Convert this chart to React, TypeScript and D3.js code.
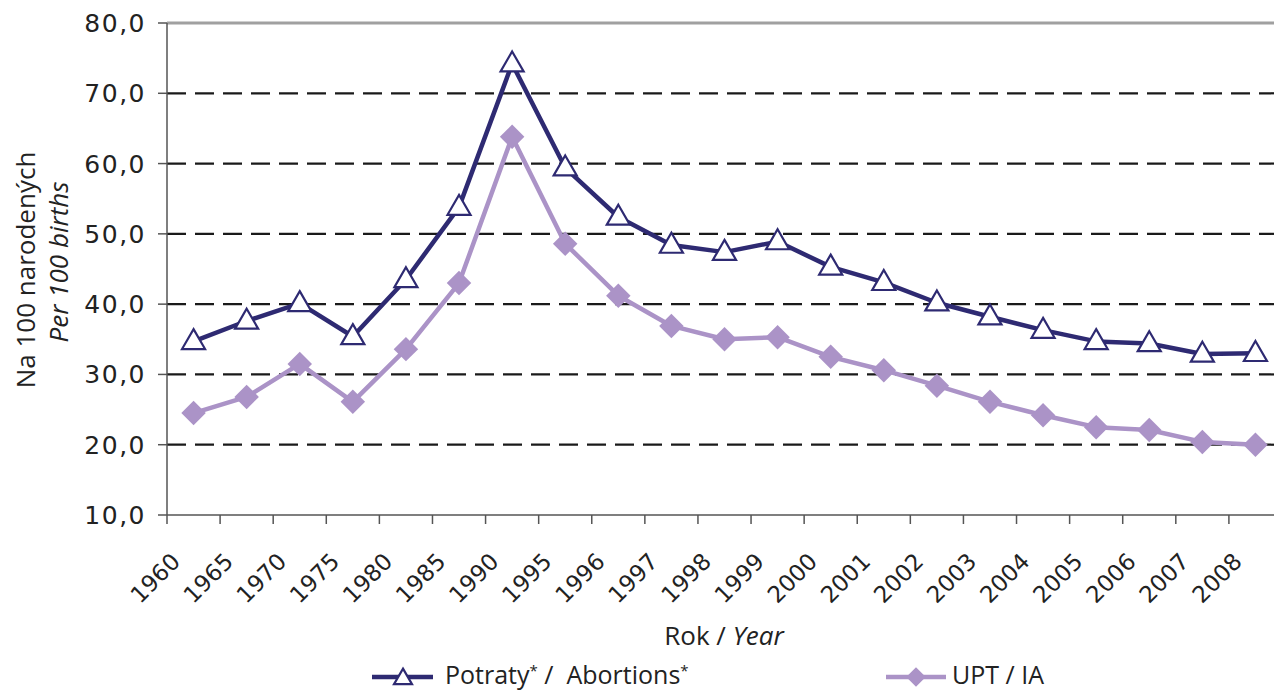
import React from 'react';
import * as d3 from 'd3';

// categories on the x axis
const years = ['1960', '1965', '1970', '1975', '1980', '1985', '1990', '1995', '1996', '1997', '1998',
  '1999', '2000', '2001', '2002', '2003', '2004', '2005', '2006', '2007', '2008'];
// Potraty* / Abortions* per 100 births
const abortions = [34.7, 37.6, 40.1, 35.4, 43.5, 53.8, 74.2, 59.4, 52.4, 48.4, 47.4,
  48.9, 45.3, 43.1, 40.2, 38.2, 36.3, 34.7, 34.4, 32.9, 33.0];
// UPT / IA per 100 births
const upt = [24.5, 26.8, 31.5, 26.1, 33.6, 43.0, 63.8, 48.6, 41.2, 36.9, 35.0,
  35.3, 32.5, 30.6, 28.4, 26.1, 24.2, 22.5, 22.1, 20.4, 20.0];
const yTicks = [10, 20, 30, 40, 50, 60, 70, 80];

const W = 1274;
const H = 693;
const NAVY = '#2e2a72';
const LILAC = '#ab93c7';
const numFont = '"DejaVu Sans", sans-serif';
const txtFont = '"Open Sans", sans-serif';

export default function App() {
  const x = d3.scaleBand().domain(years).range([167, 1282]);
  const y = d3.scaleLinear().domain([10, 80]).range([515, 23]);
  const cx = (yr) => (x(yr) as number) + x.bandwidth() / 2;
  const fmt = (v) => d3.format('.1f')(v).replace('.', ',');

  const line = d3.line<number>()
    .x((_, i) => cx(years[i]))
    .y((d) => y(d));

  const tri = d3.symbol().type(d3.symbolTriangle).size(230)();
  const triSmall = d3.symbol().type(d3.symbolTriangle).size(140)();
  const sq = d3.symbol().type(d3.symbolSquare).size(300)();
  const sqSmall = d3.symbol().type(d3.symbolSquare).size(190)();

  return (
    <svg width={W} height={H} style={{ position: 'absolute', left: 0, top: 0, background: '#fff' }}>
      {/* grid lines */}
      {yTicks.filter((t) => t > 10).map((t) => (
        <line key={t} x1={167} x2={W} y1={y(t)} y2={y(t)}
          stroke={t === 80 ? '#a0a0a0' : '#1a1a1a'} strokeWidth={t === 80 ? 3 : 2.2}
          strokeDasharray={t === 80 ? null : '19 9'} />
      ))}

      {/* y axis */}
      <line x1={167} x2={167} y1={y(80)} y2={y(10)} stroke="#555" strokeWidth={1.5} />
      {yTicks.map((t) => (
        <g key={t}>
          <line x1={158} x2={167} y1={y(t)} y2={y(t)} stroke="#555" strokeWidth={1.5} />
          <text x={146} y={y(t)} dy="0.36em" textAnchor="end" fontFamily={numFont} fontSize={25}
            letterSpacing={1.5} fill="#222">{fmt(t)}</text>
        </g>
      ))}

      {/* x axis */}
      <line x1={167} x2={W} y1={y(10)} y2={y(10)} stroke="#555" strokeWidth={1.5} />
      {years.map((yr) => (
        <g key={yr}>
          <line x1={x(yr)} x2={x(yr)} y1={515} y2={524} stroke="#555" strokeWidth={1.5} />
          <text transform={`translate(${cx(yr) - 12},563) rotate(-45)`} textAnchor="end"
            fontFamily={numFont} fontSize={23} fill="#222">{yr}</text>
        </g>
      ))}

      {/* axis titles */}
      <text transform="translate(35,270) rotate(-90)" textAnchor="middle" fontFamily={txtFont}
        fontSize={26} fill="#222">Na 100 narodených</text>
      <text transform="translate(68,262) rotate(-90)" textAnchor="middle" fontFamily={txtFont}
        fontSize={26} fontStyle="italic" fill="#222">Per 100 births</text>
      <text x={724} y={645} textAnchor="middle" fontFamily={txtFont} fontSize={26} fill="#222">
        Rok / <tspan fontStyle="italic">Year</tspan>
      </text>

      {/* series: abortions */}
      <path d={line(abortions) as string} fill="none" stroke={NAVY} strokeWidth={4.5}
        strokeLinejoin="round" />
      {abortions.map((v, i) => (
        <path key={i} d={tri as string} transform={`translate(${cx(years[i])},${y(v) + 1})`}
          fill="#fff" stroke={NAVY} strokeWidth={2.2} />
      ))}

      {/* series: UPT */}
      <path d={line(upt) as string} fill="none" stroke={LILAC} strokeWidth={4.5}
        strokeLinejoin="round" />
      {upt.map((v, i) => (
        <path key={i} d={sq as string} transform={`translate(${cx(years[i])},${y(v)}) rotate(45)`}
          fill={LILAC} />
      ))}

      {/* legend */}
      <line x1={372} x2={433} y1={677} y2={677} stroke={NAVY} strokeWidth={4.5} />
      <path d={triSmall as string} transform="translate(403,679)" fill="#fff" stroke={NAVY} strokeWidth={2.2} />
      <text x={445} y={684} fontFamily={txtFont} fontSize={25} fill="#222">
        Potraty<tspan fontSize={15} dy={-8}>*</tspan><tspan dy={8} xmlSpace="preserve"> /  Abortions</tspan>
        <tspan fontSize={15} dy={-8}>*</tspan>
      </text>
      <line x1={886} x2={946} y1={677} y2={677} stroke={LILAC} strokeWidth={4.5} />
      <path d={sqSmall as string} transform="translate(916,677) rotate(45)" fill={LILAC} />
      <text x={952} y={684} fontFamily={txtFont} fontSize={25} fill="#222">UPT / IA</text>
    </svg>
  );
}
